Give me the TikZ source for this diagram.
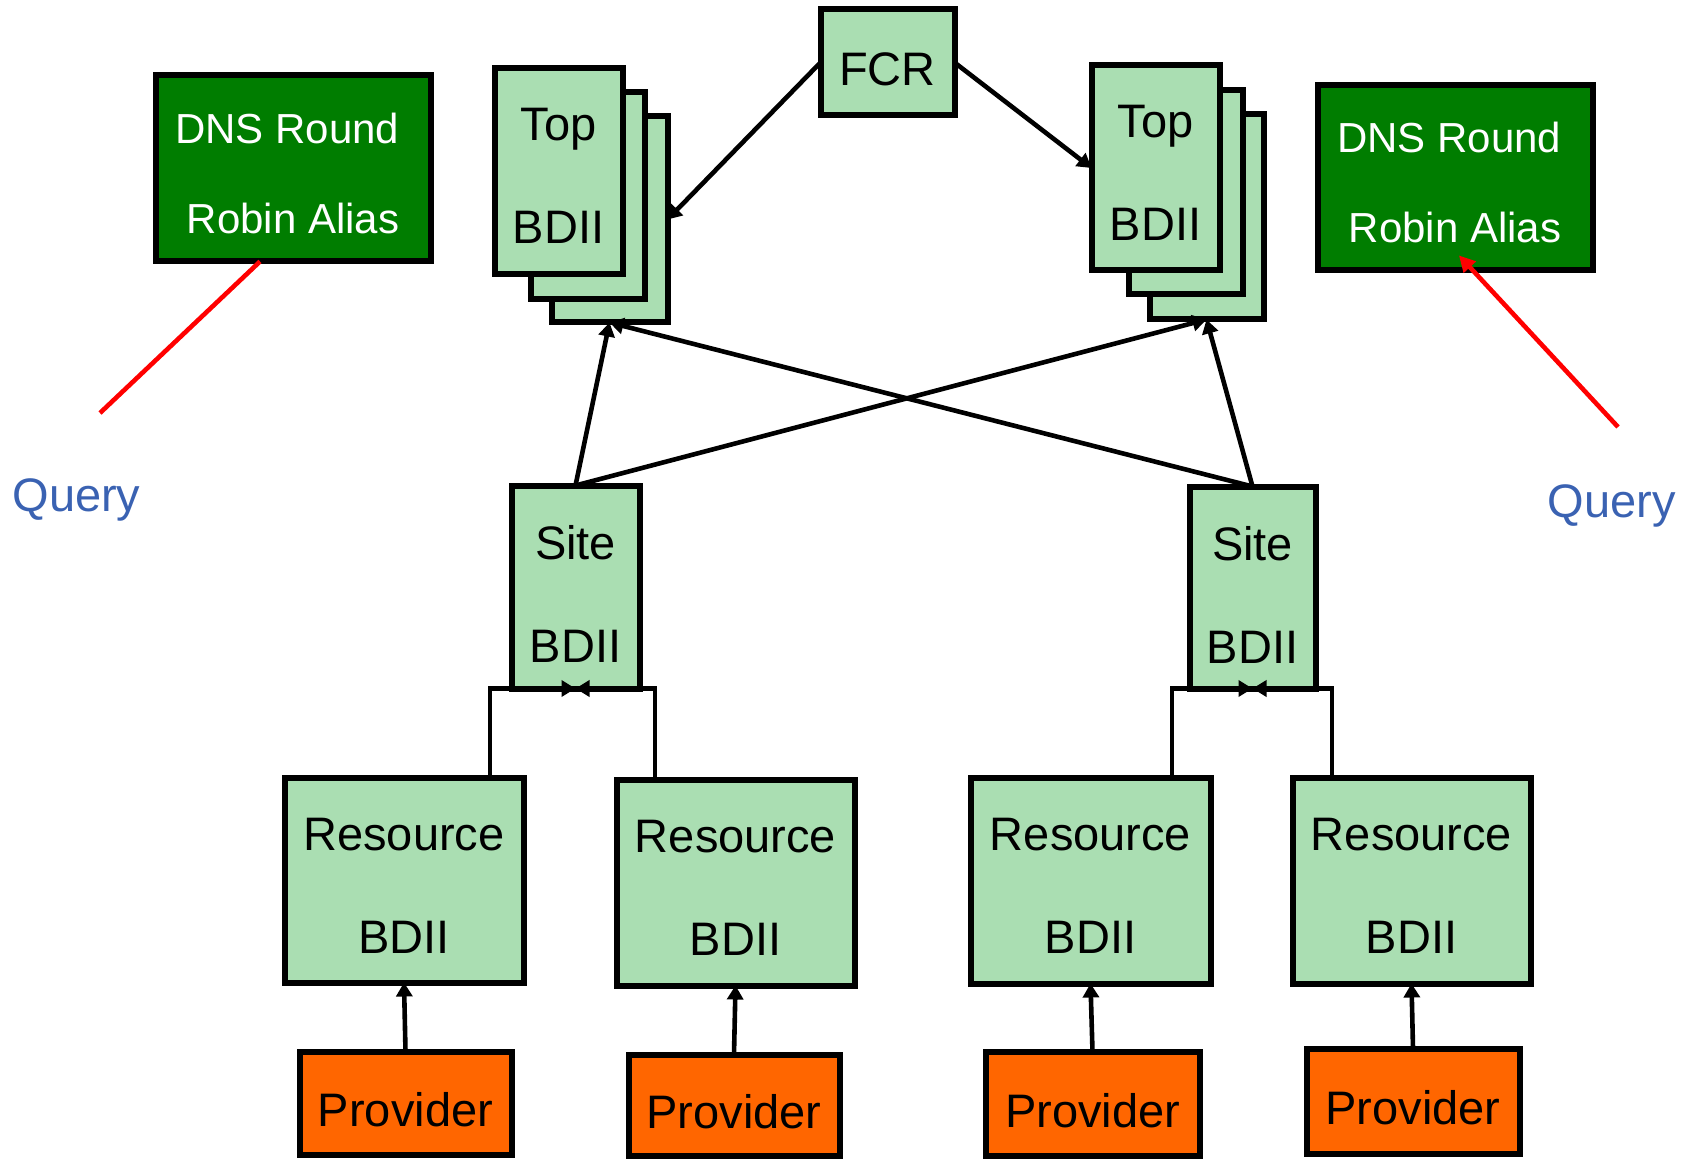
\documentclass[tikz,border=0pt]{standalone}
\usepackage{fontspec}
\setmainfont{Liberation Sans}
\usetikzlibrary{arrows.meta,calc}
\definecolor{lgreen}{RGB}{170,222,178}
\definecolor{dgreen}{RGB}{0,125,0}
\definecolor{orng}{RGB}{255,102,0}
\definecolor{qblue}{RGB}{58,98,178}
\tikzset{
 bx/.style={draw=black, line width=3pt, inner sep=0pt, outer sep=0pt},
 lg/.style={bx, fill=lgreen},
 dg/.style={bx, fill=dgreen},
 og/.style={bx, fill=orng},
 txt/.style={inner sep=0pt, align=center, font=\fontsize{23.5}{51.5}\selectfont},
 wtxt/.style={inner sep=0pt, align=center, text=white, font=\fontsize{21}{45}\selectfont},
 qtxt/.style={inner sep=0pt, anchor=base, text=qblue, font=\fontsize{23.5}{28}\selectfont},
 conn/.style={line width=2.3pt, -{Triangle[length=7pt,width=8pt]}},
 redl/.style={draw=red, line width=2.3pt},
}
\begin{document}
\begin{tikzpicture}[x=0.5pt,y=-0.5pt]
\useasboundingbox (0,0) rectangle (1686,1160);

% FCR
\node[lg, minimum width=67pt, minimum height=53pt] (FCR) at (887.5,62.5) {};
\node[txt] (FCRt) at (887.5,69.5) {FCR};

% left Top BDII stack
\node[lg, minimum width=58pt, minimum height=103pt] (TL3) at (609.5,219.5) {};
\node[lg, minimum width=57pt, minimum height=103.5pt] (TL2) at (587.5,196) {};
\node[lg, minimum width=64pt, minimum height=103pt] (TL1) at (558.5,171.5) {};
\node[txt] (TL1t) at (558.5,175.5) {Top\\BDII};

% right Top BDII stack
\node[lg, minimum width=57pt, minimum height=102.5pt] (TR3) at (1206.5,217) {};
\node[lg, minimum width=57pt, minimum height=102pt] (TR2) at (1185.5,192.5) {};
\node[lg, minimum width=64pt, minimum height=102.5pt] (TR1) at (1155.5,168) {};
\node[txt] (TR1t) at (1155.5,172.5) {Top\\BDII};

% DNS boxes
\coordinate (qL) at (100,413);
\coordinate (qR) at (1618,427);
\node[dg, minimum width=137.5pt, minimum height=93pt] (DL) at (293,168.5) {};
\draw[redl] (qL) -- ($(DL.south)+(-33,0)$);
\node[wtxt] (DLt) at (293,173) {DNS Round\kern0.28em\\Robin Alias};
\node[dg, minimum width=137.5pt, minimum height=92.5pt] (DR) at (1455,178) {};
\node[wtxt] (DRt) at (1455,182.5) {DNS Round\kern0.28em\\Robin Alias};
\draw[redl, -{Triangle[length=8pt,width=8pt]}] (qR) -- ($(DR.south)+(4,-15)$);

% Query labels
\node[qtxt] (QL) at (76.5,511) {Query};
\node[qtxt] (QR) at (1611.5,517) {Query};

% Site BDII
\node[lg, minimum width=64pt, minimum height=101.5pt] (S1) at (575.5,587) {};
\node[txt] (S1t) at (575.5,594) {Site\\BDII};
\node[lg, minimum width=63pt, minimum height=101pt] (S2) at (1252.5,587.5) {};
\node[txt] (S2t) at (1252.5,594.5) {Site\\BDII};

% Resource BDII
\node[lg, minimum width=119.5pt, minimum height=102.5pt] (R1) at (404,880) {};
\node[txt] (R1t) at (404,885.5) {Resource\\BDII};
\node[lg, minimum width=119pt, minimum height=103pt] (R2) at (735.5,882.5) {};
\node[txt] (R2t) at (735.5,888) {Resource\\BDII};
\node[lg, minimum width=120pt, minimum height=103pt] (R3) at (1090.5,880.5) {};
\node[txt] (R3t) at (1090.5,886) {Resource\\BDII};
\node[lg, minimum width=119pt, minimum height=103pt] (R4) at (1411.5,880.5) {};
\node[txt] (R4t) at (1411.5,886) {Resource\\BDII};

% Providers
\node[og, minimum width=106pt, minimum height=51.5pt] (P1) at (405.5,1103) {};
\node[txt] (P1t) at (405.5,1110) {Provider};
\node[og, minimum width=105.5pt, minimum height=50.5pt] (P2) at (734,1105) {};
\node[txt] (P2t) at (734,1112) {Provider};
\node[og, minimum width=107pt, minimum height=52pt] (P3) at (1092.5,1103.5) {};
\node[txt] (P3t) at (1092.5,1110.5) {Provider};
\node[og, minimum width=106.5pt, minimum height=52.5pt] (P4) at (1413,1101) {};
\node[txt] (P4t) at (1413,1108) {Provider};

% connectors
\draw[conn] (FCR.west) -- (TL3.east);
\draw[conn] (FCR.east) -- (TR1.west);
\draw[conn] (S1.north) -- (TL3.south);
\draw[conn] (S1.north) -- (TR3.south);
\draw[conn] (S2.north) -- (TL3.south);
\draw[conn] (S2.north) -- (TR3.south);
\draw[conn] ($(R1.north)+(86,0)$) |- (S1.south);
\draw[conn] ($(R2.north)+(-80.5,0)$) |- (S1.south);
\draw[conn] ($(R3.north)+(81.5,0)$) |- (S2.south);
\draw[conn] ($(R4.north)+(-79.5,0)$) |- (S2.south);
\draw[conn] (P1.north) -- (R1.south);
\draw[conn] (P2.north) -- (R2.south);
\draw[conn] (P3.north) -- (R3.south);
\draw[conn] (P4.north) -- (R4.south);
\end{tikzpicture}
\end{document}
